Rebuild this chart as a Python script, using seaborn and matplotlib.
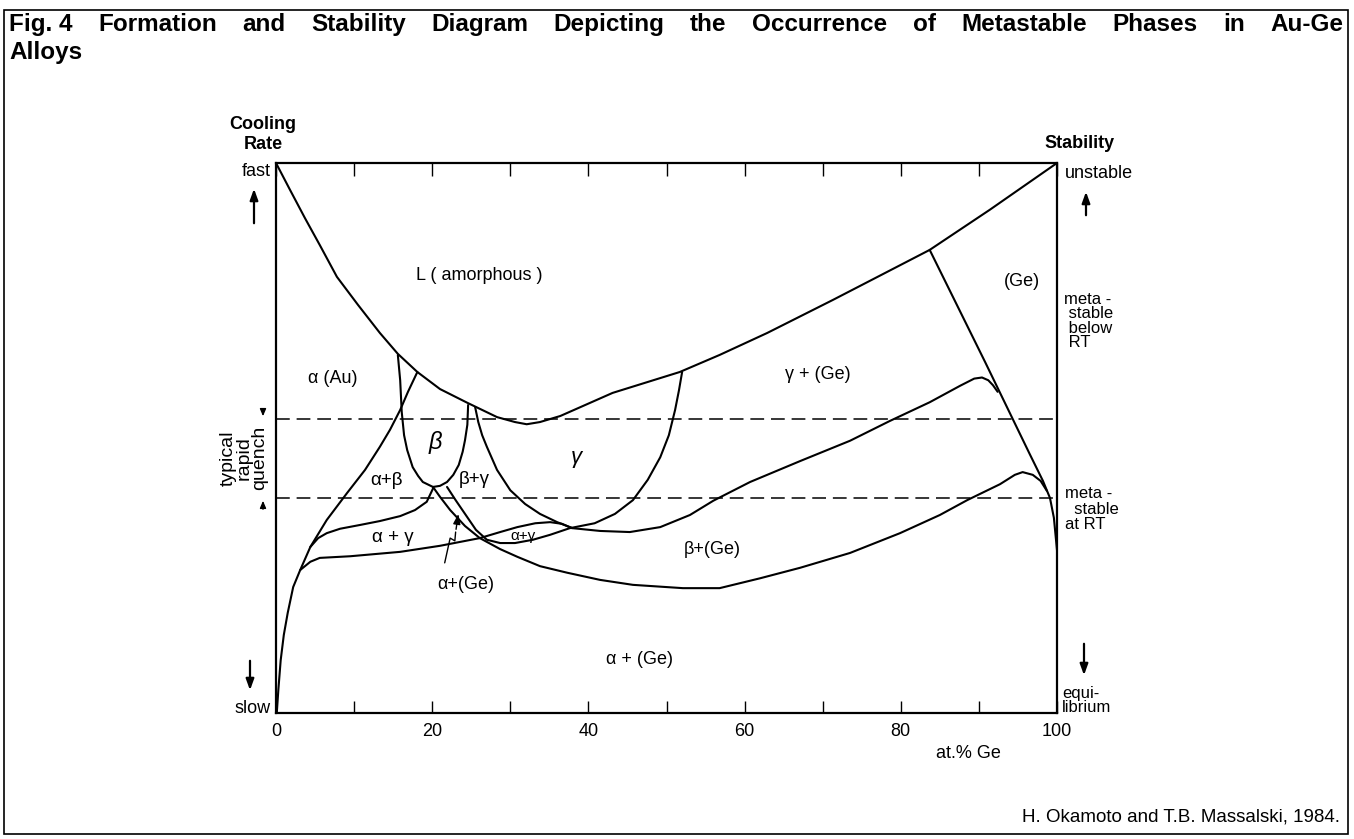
import matplotlib
matplotlib.use("Agg")
import matplotlib.pyplot as plt
from matplotlib.patches import Rectangle
import seaborn as sns
import pandas as pd

# ---------------- data (x = at.% Ge, y = relative cooling rate / stability, 0..100) -------------
L_x = [0.0, 1.8, 3.7, 5.6, 7.8, 10.5, 13.3, 15.6, 18.1, 21.0, 24.5, 28.3, 30.6, 32.1, 33.8, 36.4, 43.1,
       51.7, 56.8, 62.9, 71.3, 77.3, 83.7, 91.4, 100.0]
L_y = [100.0, 95.1, 90.0, 85.1, 79.3, 74.2, 69.1, 65.3, 62.0, 58.9, 56.4, 53.8, 52.9, 52.5, 52.9, 54.0,
       58.2, 62.0, 65.1, 69.1, 75.1, 79.5, 84.2, 91.5, 100.0]

alpha_x = [18.1, 16.9, 15.9, 14.6, 13.3, 11.4, 9.1, 6.5, 4.4, 3.1, 2.2, 1.5, 1.0, 0.6, 0.3, 0.1]
alpha_y = [62.0, 58.4, 55.1, 51.5, 48.4, 44.2, 40.0, 35.1, 30.2, 26.0, 22.9, 18.2, 14.2, 9.6, 4.2, 0.0]

ag_up_x = [4.4, 5.4, 6.5, 8.2, 10.8, 13.3, 15.9, 17.8, 19.3, 20.1]
ag_up_y = [30.2, 31.8, 32.7, 33.5, 34.2, 34.9, 35.8, 36.9, 38.4, 40.8]

beta_left_x = [15.6, 15.9, 16.1, 16.4, 16.8, 17.5, 18.2, 18.8, 20.1]
beta_left_y = [65.1, 60.5, 54.7, 50.5, 47.8, 44.7, 43.1, 42.0, 41.1]
beta_right_x = [24.6, 24.5, 24.2, 23.9, 23.4, 22.7, 21.9, 21.0, 20.1]
beta_right_y = [56.0, 52.4, 49.6, 47.5, 45.1, 43.3, 42.0, 41.3, 41.1]

gamma_left_x = [25.5, 25.9, 26.4, 27.0, 28.3, 30.0, 31.9, 33.8, 36.0, 38.0, 41.5, 45.3, 49.2, 53.0,
                56.0, 60.7, 67.1, 73.5, 78.6, 83.7, 87.6, 89.4, 90.4, 91.2, 91.8, 92.4]
gamma_left_y = [55.6, 52.9, 50.5, 48.4, 44.2, 40.5, 38.0, 36.2, 34.7, 33.6, 33.1, 32.9, 33.8, 36.0,
                38.6, 42.0, 45.8, 49.5, 53.1, 56.5, 59.5, 60.8, 61.0, 60.5, 59.6, 58.4]

gamma_right_x = [52.0, 51.6, 51.1, 50.3, 49.2, 47.6, 45.7, 43.4, 40.8, 37.6, 35.1, 32.9, 30.6, 28.7,
                 27.0, 25.6, 24.3, 23.0, 21.9]
gamma_right_y = [62.0, 58.7, 55.1, 50.5, 46.5, 42.4, 38.7, 36.2, 34.5, 33.6, 32.4, 31.5, 30.9, 30.9,
                 31.5, 33.3, 36.0, 38.7, 41.1]

lens_x = [3.1, 4.4, 5.6, 9.5, 15.9, 21.0, 26.1, 28.7, 30.9, 33.2, 35.1, 36.6, 37.9]
lens_y = [26.0, 27.5, 28.2, 28.5, 29.3, 30.4, 31.8, 32.9, 33.8, 34.5, 34.7, 34.4, 33.6]

low_x = [20.1, 21.0, 22.3, 24.2, 26.1, 28.7, 30.9, 33.8, 37.3, 41.5, 45.7, 52.1, 56.8, 62.0, 67.1,
         73.5, 79.9, 85.0, 88.5, 92.7, 94.6, 95.6, 96.9, 97.9, 98.7]
low_y = [41.1, 39.3, 36.9, 34.0, 31.8, 29.8, 28.4, 26.7, 25.5, 24.2, 23.3, 22.7, 22.7, 24.5, 26.4,
         29.1, 32.7, 36.0, 38.7, 41.6, 43.3, 43.8, 43.3, 42.2, 40.4]

ge_x = [83.7, 90.8, 96.5, 98.2, 99.1, 99.6, 100.0]
ge_y = [84.2, 63.8, 47.1, 42.2, 39.1, 35.5, 29.6]

quench_levels = [53.5, 39.1]

zig_x = [21.6, 22.3, 22.9, 23.0]
zig_y = [27.3, 31.8, 31.3, 32.9]
zig_tip = (23.4, 36.7)

x_ticks = [0, 20, 40, 60, 80, 100]
x_minor = [10, 30, 50, 70, 90]

region_labels = [
    ("L ( amorphous )", 26.0, 79.5, 13, "normal"),
    ("(Ge)", 95.5, 78.4, 13, "normal"),
    ("α (Au)", 7.3, 60.9, 13, "normal"),
    ("γ + (Ge)", 69.4, 61.5, 13, "normal"),
    ("β", 20.4, 49.1, 17, "italic"),
    ("γ", 38.5, 46.4, 16, "italic"),
    ("α+β", 14.2, 42.3, 13.5, "normal"),
    ("β+γ", 25.4, 42.4, 13.5, "normal"),
    ("α + γ", 15.0, 32.0, 13.5, "normal"),
    ("α+γ", 31.6, 32.2, 11, "normal"),
    ("β+(Ge)", 55.8, 29.8, 13, "normal"),
    ("α+(Ge)", 24.3, 23.3, 13, "normal"),
    ("α + (Ge)", 46.6, 9.8, 13, "normal"),
]

curves = {
    "L": (L_x, L_y), "alpha": (alpha_x, alpha_y), "ag_up": (ag_up_x, ag_up_y),
    "beta_l": (beta_left_x, beta_left_y), "beta_r": (beta_right_x, beta_right_y),
    "gamma_l": (gamma_left_x, gamma_left_y), "gamma_r": (gamma_right_x, gamma_right_y),
    "lens": (lens_x, lens_y), "low": (low_x, low_y), "ge": (ge_x, ge_y),
}

# ---------------- figure ----------------
sns.set_theme(style="white")
plt.rcParams["font.family"] = ["Liberation Sans", "DejaVu Sans"]
plt.rcParams["text.color"] = "black"
plt.rcParams["xtick.color"] = "black"
plt.rcParams["axes.edgecolor"] = "black"

W, H = 1354, 839
fig = plt.figure(figsize=(W / 100, H / 100), dpi=100)
fig.patch.set_facecolor("white")

bg = fig.add_axes([0, 0, 1, 1])
bg.set_xlim(0, W)
bg.set_ylim(H, 0)
bg.axis("off")

ax = fig.add_axes([276 / W, 1 - 713 / H, (1057 - 276) / W, (713 - 163) / H])
ax.set_facecolor("none")

for name, (cx, cy) in curves.items():
    df = pd.DataFrame({"x": cx, "y": cy})
    sns.lineplot(data=df, x="x", y="y", sort=False, estimator=None, color="black",
                 lw=1.5, ax=ax, legend=False)

for lev in quench_levels:
    ax.axhline(lev, color="black", lw=1.1, linestyle=(0, (9, 4.5)))

# zig-zag pointer to the alpha+(Ge) sliver
ax.plot(zig_x, zig_y, color="black", lw=1.0)
ax.annotate("", xy=zig_tip, xytext=(zig_x[-1], zig_y[-1]),
            arrowprops=dict(arrowstyle="-|>,head_length=0.5,head_width=0.18", color="black", lw=1.0))

for txt, lx, ly, fs, st in region_labels:
    ax.text(lx, ly, txt, ha="center", va="center", fontsize=fs, fontstyle=st)

ax.set_xlim(0, 100)
ax.set_ylim(0, 100)
ax.set_xticks(x_ticks)
ax.set_xticklabels([str(t) for t in x_ticks])
ax.set_xticks(x_minor, minor=True)
ax.set_yticks([])
ax.tick_params(axis="x", which="both", direction="in", length=9, width=1.0,
               top=True, bottom=True, labelsize=13, pad=7)
ax.set_xlabel("")
ax.set_ylabel("")
for sp in ax.spines.values():
    sp.set_visible(True)
    sp.set_linewidth(1.6)
    sp.set_color("black")

# ---------------- outer texts (pixel coordinates, origin top-left) ----------------
bg.add_patch(Rectangle((4, 10), 1344, 824, fill=False, lw=1.2, ec="black"))

title_words = ["Fig. 4", "Formation", "and", "Stability", "Diagram", "Depicting", "the",
               "Occurrence", "of", "Metastable", "Phases", "in", "Au-Ge"]
renderer = fig.canvas.get_renderer()
tobjs = [bg.text(0, 31, w, fontsize=17.5, fontweight="bold", va="baseline", ha="left")
         for w in title_words]
widths = [t.get_window_extent(renderer).width for t in tobjs]
x0, x1 = 9, 1343
gap = (x1 - x0 - sum(widths)) / (len(tobjs) - 1)
xx = x0
for t, w in zip(tobjs, widths):
    t.set_x(xx)
    xx += w + gap
bg.text(9, 59, "Alloys", fontsize=17.5, fontweight="bold", va="baseline", ha="left")

arrow_kw = dict(arrowstyle="-|>,head_length=0.55,head_width=0.2", color="black", lw=1.6)
small_kw = dict(arrowstyle="-|>,head_length=0.35,head_width=0.15", color="black", lw=1.0)

bg.text(263, 116, "Cooling\nRate", ha="center", va="top", fontsize=13, fontweight="bold",
        linespacing=1.2)
bg.text(271, 171, "fast", ha="right", va="center", fontsize=13)
bg.annotate("", xy=(254, 186), xytext=(254, 226), arrowprops=arrow_kw)
bg.text(271, 713, "slow", ha="right", va="baseline", fontsize=13)
bg.annotate("", xy=(250, 693), xytext=(250, 658), arrowprops=arrow_kw)

bg.text(244, 458, "typical\nrapid\nquench", rotation=90, ha="center", va="center",
        fontsize=14, linespacing=0.9, multialignment="center")
bg.annotate("", xy=(263, 419), xytext=(263, 406), arrowprops=small_kw)
bg.annotate("", xy=(263, 498), xytext=(263, 512), arrowprops=small_kw)

bg.text(1080, 144, "Stability", ha="center", va="center", fontsize=13, fontweight="bold")
bg.text(1065, 173, "unstable", ha="left", va="center", fontsize=13)
bg.annotate("", xy=(1086, 189), xytext=(1086, 218), arrowprops=arrow_kw)
bg.text(1064, 292, "meta -\n stable\n below\n RT", ha="left", va="top", fontsize=12,
        linespacing=0.95)
bg.text(1065, 486, "meta -\n  stable\nat RT", ha="left", va="top", fontsize=12,
        linespacing=1.05)
bg.annotate("", xy=(1084, 678), xytext=(1084, 641), arrowprops=arrow_kw)
bg.text(1062, 712, "equi-\nlibrium", ha="left", va="baseline", fontsize=12, linespacing=0.95)

bg.text(968, 753, "at.% Ge", ha="center", va="center", fontsize=13)
bg.text(1340, 822, "H. Okamoto and T.B. Massalski, 1984.", ha="right", va="baseline",
        fontsize=13.5)

fig.savefig("out.png", dpi=100)
